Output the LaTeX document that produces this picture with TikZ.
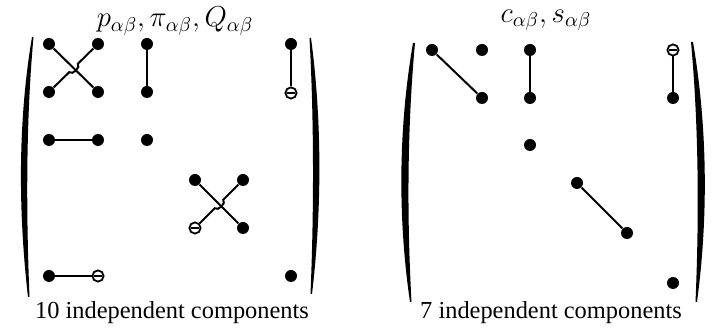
\documentclass[tikz,border=0pt]{standalone}
\usepackage{fontspec}
\setmainfont{Liberation Serif}
\usetikzlibrary{calc}

\begin{document}
\begin{tikzpicture}[x=0.5pt, y=-0.5pt,
    dot/.style={circle, fill=black, inner sep=0pt, minimum size=6pt},
    neg/.style={circle, draw=black, line width=0.9pt, fill=white, inner sep=0pt, minimum size=5.6pt,
        path picture={\draw[line width=1.1pt] ([xshift=-1.8pt]path picture bounding box.center) -- ([xshift=1.8pt]path picture bounding box.center);}},
    link/.style={line width=1pt},
    paren/.style={fill=black},
    lbl/.style={font=\fontsize{12.2}{14}\selectfont},
    head/.style={font=\fontsize{14}{16}\selectfont}
]
    \useasboundingbox (0,0) rectangle (713,330);

    % left matrix: p, pi, Q
    \node[head] (ltitle) at (175,21) {$p_{\alpha\beta}, \pi_{\alpha\beta}, Q_{\alpha\beta}$};
    \node[dot] (l11) at (49,44) {};
    \node[dot] (l12) at (98,44) {};
    \node[dot] (l13) at (147,44) {};
    \node[dot] (l16) at (291,44) {};
    \node[dot] (l21) at (49,92) {};
    \node[dot] (l22) at (98,92) {};
    \node[dot] (l23) at (147,92) {};
    \node[neg] (l26) at (291,93) {};
    \node[dot] (l31) at (49,140) {};
    \node[dot] (l32) at (98,140) {};
    \node[dot] (l33) at (147,140) {};
    \node[dot] (l44) at (195,180) {};
    \node[dot] (l45) at (243,180) {};
    \node[neg] (l54) at (195,228) {};
    \node[dot] (l55) at (243,228) {};
    \node[dot] (l61) at (49,276) {};
    \node[neg] (l62) at (98,276) {};
    \node[dot] (l66) at (291,276) {};
    \coordinate (lx1) at ($(l11)!0.5!(l22)$);
    \coordinate (lx2) at ($(l44)!0.5!(l55)$);

    \draw[link] (l11) -- (l22);
    \draw[link] (l12) -- ($(lx1)!3pt!(l12)$) to[bend left=90] ($(lx1)!3pt!(l21)$) -- (l21);
    \draw[link] (l13) -- (l23);
    \draw[link] (l16) -- (l26);
    \draw[link] (l31) -- (l32);
    \draw[link] (l44) -- (l55);
    \draw[link] (l45) -- ($(lx2)!3pt!(l45)$) to[bend left=90] ($(lx2)!3pt!(l54)$) -- (l54);
    \draw[link] (l61) -- (l62);

    \fill[paren] (32,37) .. controls (18,120) and (18,210) .. (28,297)
        -- (29.5,297) .. controls (26,210) and (26,120) .. (33.5,37) -- cycle;
    \fill[paren] (311,38) .. controls (322,120) and (322,210) .. (312,294)
        -- (310.5,294) .. controls (314,210) and (314,120) .. (309.5,38) -- cycle;

    \node[lbl] (lcap) at (172,313) {10 independent components};

    % right matrix: c, s
    \node[head] (rtitle) at (546,20) {$c_{\alpha\beta}, s_{\alpha\beta}$};
    \node[dot] (r11) at (432,50) {};
    \node[dot] (r12) at (482,50) {};
    \node[dot] (r13) at (530,50) {};
    \node[neg] (r16) at (673,50) {};
    \node[dot] (r22) at (482,98) {};
    \node[dot] (r23) at (530,98) {};
    \node[dot] (r26) at (673,98) {};
    \node[dot] (r33) at (530,145) {};
    \node[dot] (r44) at (577,183) {};
    \node[dot] (r55) at (627,233) {};
    \node[dot] (r66) at (673,283) {};

    \draw[link] (r11) -- (r22);
    \draw[link] (r13) -- (r23);
    \draw[link] (r16) -- (r26);
    \draw[link] (r44) -- (r55);

    \fill[paren] (413,43) .. controls (398,130) and (398,220) .. (410,302)
        -- (411.5,302) .. controls (407,220) and (407,130) .. (415,43) -- cycle;
    \fill[paren] (693,42) .. controls (708,130) and (708,220) .. (697,302)
        -- (695.5,302) .. controls (699,220) and (699,130) .. (691,42) -- cycle;

    \node[lbl] (rcap) at (551,313) {7 independent components};
\end{tikzpicture}
\end{document}
